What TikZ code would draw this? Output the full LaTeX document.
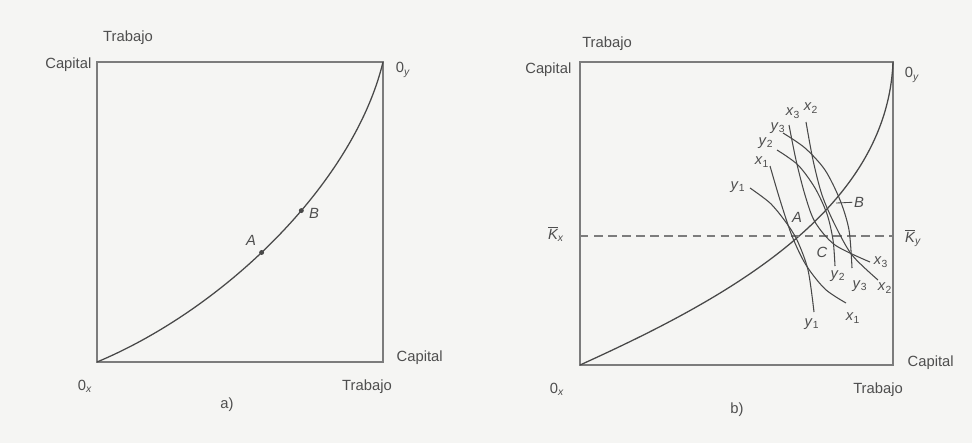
\documentclass[tikz,border=0pt]{standalone}
\usepackage{fontspec}
\setmainfont{Liberation Sans}
\usetikzlibrary{positioning}
\definecolor{cline}{HTML}{7C7C7C}
\definecolor{ccurve}{HTML}{484848}
\definecolor{ctext}{HTML}{4E4E4E}
\definecolor{cbg}{HTML}{F5F5F3}
\newcommand{\isoq}[2]{\textit{#1}\textsubscript{#2}}
\newcommand{\orig}[1]{0\textsubscript{\itshape #1}}
\newcommand{\kbar}[1]{$\overline{\mbox{\itshape K}}$\textsubscript{\itshape #1}}

\begin{document}
\begin{tikzpicture}[x=0.025cm,y=-0.025cm,
    lbl/.style={font=\fontsize{10.5}{12}\selectfont,text=ctext,inner sep=1pt},
    boxline/.style={draw=cline,line width=0.9pt},
    curve/.style={draw=ccurve,line width=0.9pt},
    isoq/.style={draw=ccurve,line width=0.75pt},
    dot/.style={circle,fill=ccurve,inner sep=0pt,minimum size=3.5pt}]
    \fill[cbg] (0,0) rectangle (972,443);
    \useasboundingbox (0,0) rectangle (972,443);
    % panel a) box and contract curve
    \draw[boxline] (97,62) rectangle (383,362);
    \draw[curve] (97,362) .. controls (226,308) and (354,182) .. (383,62)
      node[dot,pos=0.45] (ptA) {} node[dot,pos=0.58] (ptB) {};
    \node[lbl] (labA) at (251,240) {\itshape A};
    \node[lbl] (labB) at (314,213) {\itshape B};
    % panel a) axis labels
    \node[lbl] (trabTa) at (128,38) {Trabajo};
    \node[lbl,anchor=east] (capLa) at (93,65) {Capital};
    \node[lbl] (oya) at (403,70) {\orig{y}};
    \node[lbl] (oxa) at (85,386) {\orig{x}};
    \node[lbl] (trabBa) at (367,387) {Trabajo};
    \node[lbl,anchor=west] (capRa) at (395,358) {Capital};
    \node[lbl] (capta) at (227,405) {a)};
    % panel b) box, contract curve and K line
    \draw[boxline] (580,62) rectangle (893,365);
    \draw[curve] (580,365) .. controls (721,301) and (887,213) .. (893,62);
    \draw[cline,line width=0.8pt,dash pattern=on 6pt off 4pt] (580,236) -- (893,236);
    \node[lbl] (kx) at (556,234) {\kbar{x}};
    \node[lbl] (ky) at (913,238) {\kbar{y}};
    % isoquants of x (from 0x) and of y (from 0y)
    \draw[isoq] plot[smooth] coordinates {(750,188) (770,203) (785,221) (797,240) (808,270) (814,312)};
    \draw[isoq] plot[smooth] coordinates {(770,166) (780,200) (792,236) (806,265) (825,289) (846,303)};
    \draw[isoq] plot[smooth] coordinates {(777,150) (798,165) (815,188) (827,214) (833,240) (835,266)};
    \draw[isoq] plot[smooth] coordinates {(783,133) (805,148) (825,170) (840,200) (849,230) (852,268)};
    \draw[isoq] plot[smooth] coordinates {(789,125) (796,160) (805,195) (815,222) (835,245) (870,262)};
    \draw[isoq] plot[smooth] coordinates {(806,122) (813,160) (822,195) (835,225) (852,255) (878,280)};
    % curve labels
    \node[lbl] (y1t) at (738,187) {\isoq{y}{1}};
    \node[lbl] (x1t) at (762,162) {\isoq{x}{1}};
    \node[lbl] (y2t) at (766,143) {\isoq{y}{2}};
    \node[lbl] (y3t) at (778,128) {\isoq{y}{3}};
    \node[lbl] (x3t) at (793,113) {\isoq{x}{3}};
    \node[lbl] (x2t) at (811,108) {\isoq{x}{2}};
    \node[lbl] (y1b) at (812,324) {\isoq{y}{1}};
    \node[lbl] (x1b) at (853,318) {\isoq{x}{1}};
    \node[lbl] (y2b) at (838,276) {\isoq{y}{2}};
    \node[lbl] (y3b) at (860,286) {\isoq{y}{3}};
    \node[lbl] (x3b) at (881,262) {\isoq{x}{3}};
    \node[lbl] (x2b) at (885,288) {\isoq{x}{2}};
    % points A, B, C
    \node[lbl] (labAb) at (797,217) {\itshape A};
    \node[lbl] (labBb) at (859,202) {\itshape B};
    \coordinate (Bpt) at (836,203);
    \draw[ccurve,line width=0.6pt] (Bpt) -- (labBb);
    \node[lbl] (labCb) at (822,252) {\itshape C};
    % panel b) axis labels
    \node[lbl] (trabTb) at (607,44) {Trabajo};
    \node[lbl,anchor=east] (capLb) at (573,70) {Capital};
    \node[lbl] (oyb) at (912,75) {\orig{y}};
    \node[lbl] (oxb) at (557,389) {\orig{x}};
    \node[lbl] (trabBb) at (878,390) {Trabajo};
    \node[lbl,anchor=west] (capRb) at (906,363) {Capital};
    \node[lbl] (captb) at (737,410) {b)};
\end{tikzpicture}
\end{document}
